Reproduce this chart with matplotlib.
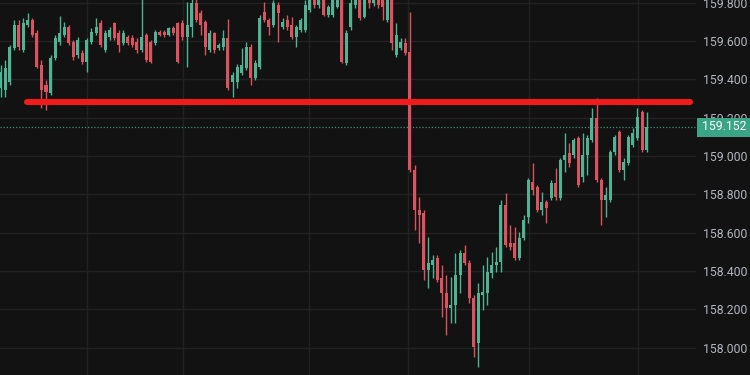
import numpy as np
import matplotlib
matplotlib.use("Agg")
import matplotlib.pyplot as plt
from matplotlib.patches import Rectangle
import matplotlib.transforms as mtransforms

# candle data (price units)
opens = [159.355, 159.345, 159.387, 159.564, 159.685, 159.554, 159.685, 159.711, 159.642, 159.476,
         159.371, 159.329, 159.512, 159.595, 159.632, 159.674, 159.595, 159.528, 159.538, 159.491,
         159.595, 159.642, 159.695, 159.554, 159.621, 159.695, 159.642, 159.590, 159.621, 159.616,
         159.595, 159.554, 159.632, 159.595, 159.590, 159.648, 159.648, 159.632, 159.669, 159.695,
         159.695, 159.621, 159.674, 159.799, 159.747, 159.700, 159.554, 159.642, 159.564, 159.569,
         159.616, 159.387, 159.387, 159.434, 159.460, 159.569, 159.407, 159.465, 159.752, 159.711,
         159.685, 159.789, 159.674, 159.711, 159.685, 159.621, 159.658, 159.658, 159.763, 159.831,
         159.789, 159.831, 159.737, 159.737, 159.778, 159.831, 159.486, 159.674, 159.789, 159.841,
         159.726, 159.831, 159.799, 159.841, 159.815, 159.711, 159.841, 159.528, 159.564, 159.590,
         159.544, 158.927, 158.718, 158.703, 158.405, 158.431, 158.467, 158.363, 158.285, 158.206,
         158.222, 158.379, 158.494, 158.441, 158.259, 158.024, 158.274, 158.285, 158.389, 158.431,
         158.447, 158.744, 158.546, 158.546, 158.467, 158.572, 158.682, 158.865, 158.839, 158.718,
         158.760, 158.781, 158.859, 158.781, 158.980, 159.016, 159.006, 159.094, 158.891, 159.006,
         159.084, 159.199, 158.875, 158.771, 158.771, 159.021, 159.126, 158.927, 158.964, 159.058,
         159.094, 159.230, 159.032]
highs = [159.476, 159.502, 159.580, 159.711, 159.711, 159.721, 159.747, 159.721, 159.658, 159.502,
         159.397, 159.528, 159.632, 159.731, 159.700, 159.685, 159.606, 159.621, 159.554, 159.616,
         159.669, 159.721, 159.711, 159.658, 159.674, 159.700, 159.658, 159.658, 159.632, 159.632,
         159.616, 159.841, 159.642, 159.606, 159.658, 159.658, 159.658, 159.674, 159.679, 159.700,
         159.711, 159.805, 159.825, 159.825, 159.763, 159.711, 159.658, 159.648, 159.590, 159.658,
         159.716, 159.439, 159.481, 159.564, 159.595, 159.585, 159.502, 159.737, 159.805, 159.721,
         159.815, 159.805, 159.721, 159.737, 159.726, 159.685, 159.721, 159.815, 159.857, 159.867,
         159.867, 159.857, 159.789, 159.841, 159.857, 159.857, 159.658, 159.825, 159.857, 159.867,
         159.857, 159.857, 159.867, 159.878, 159.857, 159.841, 159.857, 159.695, 159.616, 159.616,
         159.752, 158.953, 158.786, 158.718, 158.577, 158.483, 158.483, 158.431, 158.379, 158.368,
         158.494, 158.510, 158.536, 158.457, 158.274, 158.337, 158.431, 158.473, 158.499, 158.525,
         158.771, 158.807, 158.640, 158.629, 158.603, 158.692, 158.885, 158.964, 158.849, 158.813,
         158.771, 158.875, 158.938, 158.990, 159.121, 159.068, 159.094, 159.105, 159.121, 159.110,
         159.251, 159.303, 158.885, 158.839, 159.032, 159.110, 159.136, 158.990, 159.110, 159.147,
         159.251, 159.241, 159.230]
lows = [159.308, 159.308, 159.371, 159.554, 159.554, 159.544, 159.674, 159.621, 159.460, 159.251,
        159.241, 159.319, 159.502, 159.580, 159.621, 159.580, 159.502, 159.512, 159.481, 159.439,
        159.585, 159.632, 159.569, 159.544, 159.606, 159.606, 159.544, 159.580, 159.580, 159.569,
        159.538, 159.544, 159.491, 159.486, 159.580, 159.627, 159.621, 159.627, 159.632, 159.486,
        159.606, 159.465, 159.621, 159.700, 159.632, 159.528, 159.544, 159.538, 159.554, 159.554,
        159.345, 159.308, 159.355, 159.423, 159.449, 159.371, 159.397, 159.455, 159.700, 159.632,
        159.674, 159.595, 159.664, 159.658, 159.611, 159.569, 159.648, 159.648, 159.752, 159.773,
        159.773, 159.731, 159.726, 159.726, 159.773, 159.486, 159.476, 159.658, 159.773, 159.711,
        159.721, 159.773, 159.784, 159.773, 159.711, 159.700, 159.554, 159.517, 159.554, 159.528,
        158.917, 158.614, 158.546, 158.353, 158.311, 158.363, 158.342, 158.159, 158.066, 158.128,
        158.128, 158.285, 158.431, 158.233, 157.950, 157.898, 158.196, 158.222, 158.363, 158.395,
        158.395, 158.525, 158.510, 158.457, 158.457, 158.562, 158.650, 158.797, 158.708, 158.692,
        158.650, 158.771, 158.771, 158.771, 158.917, 158.943, 158.990, 158.839, 158.865, 158.901,
        159.074, 158.865, 158.640, 158.682, 158.760, 159.006, 158.917, 158.875, 158.953, 159.047,
        159.084, 159.021, 159.021]
closes = [159.439, 159.460, 159.569, 159.685, 159.569, 159.695, 159.711, 159.632, 159.465, 159.345,
          159.334, 159.512, 159.616, 159.642, 159.674, 159.590, 159.517, 159.606, 159.491, 159.606,
          159.648, 159.674, 159.580, 159.642, 159.658, 159.616, 159.580, 159.642, 159.590, 159.580,
          159.554, 159.621, 159.502, 159.491, 159.648, 159.632, 159.632, 159.669, 159.642, 159.491,
          159.621, 159.685, 159.799, 159.711, 159.685, 159.569, 159.642, 159.554, 159.580, 159.616,
          159.355, 159.423, 159.465, 159.476, 159.569, 159.407, 159.486, 159.721, 159.711, 159.674,
          159.799, 159.747, 159.700, 159.674, 159.621, 159.674, 159.711, 159.789, 159.831, 159.789,
          159.841, 159.737, 159.778, 159.815, 159.831, 159.491, 159.642, 159.799, 159.831, 159.721,
          159.831, 159.799, 159.841, 159.789, 159.778, 159.815, 159.590, 159.632, 159.595, 159.538,
          158.927, 158.718, 158.692, 158.405, 158.441, 158.457, 158.353, 158.285, 158.206, 158.222,
          158.379, 158.494, 158.441, 158.259, 158.003, 158.285, 158.290, 158.395, 158.431, 158.447,
          158.744, 158.536, 158.525, 158.467, 158.572, 158.666, 158.875, 158.823, 158.718, 158.760,
          158.729, 158.859, 158.786, 158.980, 159.006, 158.964, 159.084, 158.849, 159.006, 159.094,
          159.199, 158.875, 158.771, 158.797, 159.021, 159.100, 158.927, 158.969, 159.100, 159.121,
          159.204, 159.032, 159.152]

level_price = 159.282      # red horizontal line
last_price = 159.152
price_ticks = [158.0, 158.2, 158.4, 158.6, 158.8, 159.0, 159.2, 159.4, 159.6, 159.8]
time_grid = [19.0, 40.1, 67.8, 89.6, 116.2, 140.1]   # vertical grid lines (bar index)

bg = "#121212"
up_col = "#4fb394"
down_col = "#dc525e"

o = np.array(opens); h = np.array(highs); l = np.array(lows); c = np.array(closes)
x = np.arange(len(o))
up = c >= o
cols = np.where(up, up_col, down_col)

fig = plt.figure(figsize=(7.5, 3.75), dpi=100, facecolor=bg)
ax = fig.add_axes([0, 0, 696 / 750, 1])
ax.set_facecolor(bg)

ax.vlines(x, l, h, colors=cols, linewidth=1, zorder=3)
body_low = np.minimum(o, c)
body_h = np.maximum(np.abs(c - o), 0.006)
ax.bar(x, body_h, bottom=body_low, width=0.66, color=cols, linewidth=0, zorder=4)

# key level
ax.plot([5.8, 151.5], [level_price, level_price], color="#f21b1b", lw=4.4,
        solid_capstyle="round", zorder=6)

# last price dotted line
ax.axhline(last_price, color="#3f8c78", lw=0.9, ls=(0, (1, 1.5)), zorder=2)

ax.set_xlim(-0.11, 152.86)
ax.set_ylim(157.857, 159.815)

ax.set_xticks(time_grid)
ax.set_yticks(price_ticks)
ax.grid(True, color="#222222", lw=1, zorder=0)
ax.tick_params(axis="x", length=0, labelbottom=False)
ax.yaxis.tick_right()
ax.tick_params(axis="y", length=0, pad=5, labelcolor="#b2b5be", labelsize=8.8)
ax.set_yticklabels(["%.3f" % p for p in price_ticks], family="Roboto")
for s in ax.spines.values():
    s.set_visible(False)

# price label on the scale
tr = mtransforms.blended_transform_factory(fig.transFigure, ax.transData)
ax.add_patch(Rectangle((697 / 750, last_price - 0.05), 53 / 750, 0.099, transform=tr,
                       facecolor="#3aa584", edgecolor="none", clip_on=False, zorder=10))
ax.text(724 / 750, last_price, "%.3f" % last_price, transform=tr, ha="center", va="center",
        color="white", fontsize=8.8, family="Roboto", clip_on=False, zorder=11)

fig.savefig("out.png", dpi=100, facecolor=bg)
